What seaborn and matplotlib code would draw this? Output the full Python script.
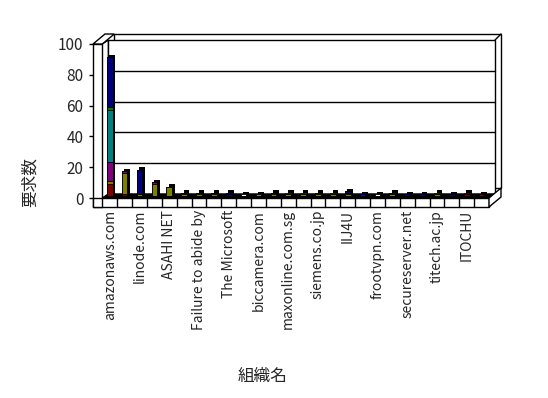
import numpy as np
import matplotlib
matplotlib.use("Agg")
import matplotlib.pyplot as plt
from matplotlib.patches import Polygon
from matplotlib.lines import Line2D
from matplotlib.transforms import offset_copy, IdentityTransform
import seaborn as sns

### DATOS ###
# solo se imprime cada segundo nombre bajo el eje
org_labels = ["amazonaws.com", "", "linode.com", "", "ASAHI NET", "",
              "Failure to abide by", "", "The Microsoft", "", "biccamera.com", "",
              "maxonline.com.sg", "", "siemens.co.jp", "", "IIJ4U", "",
              "frootvpn.com", "", "secureserver.net", "", "titech.ac.jp", "",
              "ITOCHU", ""]
positions = list(range(len(org_labels)))

maroon_vals = [8, 1, 0, 0, 0, 0, 0, 0, 0, 0, 0, 0, 0, 0, 0, 0, 0, 0, 0, 0, 0, 0, 0, 0, 1, 1]
olive_vals = [2, 14, 1, 8, 6, 1, 1, 1, 0, 0, 0, 1, 1, 1, 1, 1, 1, 0, 0, 1, 0, 0, 1, 0, 0, 0]
purple_vals = [12, 1, 0, 1, 0, 1, 0, 1, 0, 0, 0, 1, 0, 0, 0, 0, 1, 0, 0, 0, 0, 0, 0, 0, 0, 0]
teal_vals = [34, 0, 0, 0, 0, 0, 0, 0, 0, 0, 0, 0, 0, 0, 1, 0, 0, 0, 0, 0, 0, 0, 0, 0, 0, 0]
green_vals = [2, 0, 0, 0, 0, 0, 1, 0, 0, 0, 0, 0, 0, 0, 0, 0, 0, 0, 0, 1, 0, 0, 0, 0, 0, 0]
navy_vals = [32, 0, 16, 0, 0, 0, 0, 0, 1, 0, 0, 0, 0, 0, 0, 0, 1, 0, 0, 0, 1, 1, 0, 1, 0, 0]
blue_vals = [0, 0, 0, 0, 0, 0, 0, 0, 1, 0, 0, 0, 0, 0, 0, 0, 0, 1, 0, 0, 0, 0, 0, 0, 0, 0]
gray_vals = [0, 0, 0, 0, 0, 0, 0, 0, 0, 0, 1, 0, 0, 0, 0, 0, 0, 0, 0, 0, 0, 0, 0, 0, 0, 0]
white_vals = [0, 0, 0, 0, 0, 0, 0, 0, 0, 1, 0, 0, 1, 1, 0, 1, 0, 0, 1, 0, 0, 0, 1, 0, 1, 0]

y_ticks = [0, 20, 40, 60, 80, 100]

# orden de apilado (de abajo hacia arriba)
stack = [(maroon_vals, "#800000"), (olive_vals, "#808000"), (purple_vals, "#800080"),
         (teal_vals, "#008080"), (green_vals, "#008000"), (navy_vals, "#000080"),
         (blue_vals, "#0000FF"), (gray_vals, "#808080"), (white_vals, "#FFFFFF")]

### ESTILO ###
sns.set_style("white")
plt.rcParams["font.family"] = ["Noto Sans CJK JP", "DejaVu Sans"]

fig = plt.figure(figsize=(5.48, 3.98), dpi=100)
ax = fig.add_axes([93 / 548, 191 / 398, 396 / 548, 163 / 398])

### BARRAS APILADAS ###
cum = np.cumsum([s for s, _ in stack], axis=0)
bar_shift = offset_copy(ax.transData, fig=fig, x=0, y=2, units="dots")
side_shift = offset_copy(ax.transData, fig=fig, x=2.5, y=4.5, units="dots")

# sombra negra (lado y tapa de las barras 3D)
n0 = len(ax.patches)
sns.barplot(x=positions, y=cum[-1], color="black", width=0.38, saturation=1,
            errorbar=None, linewidth=0, ax=ax)
for p in ax.patches[n0:]:
    p.set_transform(side_shift)
    p.set_zorder(3)

for k in range(len(stack) - 1, -1, -1):
    n0 = len(ax.patches)
    sns.barplot(x=positions, y=cum[k], color=stack[k][1], width=0.38, saturation=1,
                errorbar=None, edgecolor="black", linewidth=0.6, ax=ax)
    for p in ax.patches[n0:]:
        p.set_transform(bar_shift)
        p.set_zorder(4)

ax.set_xlim(-1.125, 25.5)
ax.set_ylim(-5.84, 100)
ax.set_autoscale_on(False)
for s in ax.spines.values():
    s.set_visible(False)
ax.patch.set_visible(False)

### MARCO 3D ###
D = (6, 4)     # profundidad interior
W = (12, 10)   # grosor de las paredes


def px(x, y, d=(0, 0)):
    X, Y = ax.transData.transform((x, y))
    return (X + d[0], Y + d[1])


def slab(points, z, fc="white"):
    ax.add_patch(Polygon(points, closed=True, facecolor=fc, edgecolor="black",
                         linewidth=1, transform=IdentityTransform(), clip_on=False, zorder=z))


def line(a, b, z):
    ax.add_line(Line2D([a[0], b[0]], [a[1], b[1]], color="black", linewidth=1,
                       transform=IdentityTransform(), clip_on=False, zorder=z))


x0, x1, yb = -0.5, 25.5, -5.84
# pared del fondo (exterior e interior)
slab([px(x0, 0, W), px(x1, 0, W), px(x1, 100, W), px(x0, 100, W)], 0.5)
slab([px(x0, 0, D), px(x1, 0, D), px(x1, 100, D), px(x0, 100, D)], 1)
line(px(x1, 100, D), px(x1, 100, W), 1.2)
for v in y_ticks[1:-1]:
    line(px(x0, v, D), px(x1, v, D), 1.5)
# piso negro
slab([px(x0, 0), px(x1, 0), px(x1, 0, D), px(x0, 0, D)], 2, fc="black")
# pared izquierda
slab([px(x0, 0), px(x0, 100), px(x0, 100, D), px(x0, 0, D)], 2.1)
slab([px(-1.125, yb), px(x0, yb), px(x0, 100), px(-1.125, 100)], 5)
slab([px(-1.125, 100), px(x0, 100), px(x0, 100, W), px(-1.125, 100, W)], 5)
# frente del piso con divisiones
slab([px(-1.125, yb), px(x1, yb), px(x1, 0), px(-1.125, 0)], 5)
for k in positions:
    line(px(k - 0.5, yb), px(k - 0.5, 0), 5.1)
slab([px(x1, yb), px(x1, yb, W), px(x1, 0, W), px(x1, 0)], 5)

### EJES Y TEXTOS ###
ax.set_yticks(y_ticks)
ax.set_yticklabels([str(v) for v in y_ticks], fontsize=11)
ax.set_xticks(positions)
ax.set_xticklabels(org_labels, rotation=90, fontsize=10, va="top")
ax.tick_params(axis="y", left=True, length=3, width=1, pad=4, color="black")
ax.tick_params(axis="x", bottom=False, length=0, pad=2)
ax.set_xlabel("")
ax.set_ylabel("")

fig.text(30 / 548, 1 - 182 / 398, "要求数", rotation=90, ha="center", va="center", fontsize=12)
fig.text(263 / 548, 1 - 376 / 398, "組織名", ha="center", va="center", fontsize=12)

plt.savefig("out.png", dpi=100)
